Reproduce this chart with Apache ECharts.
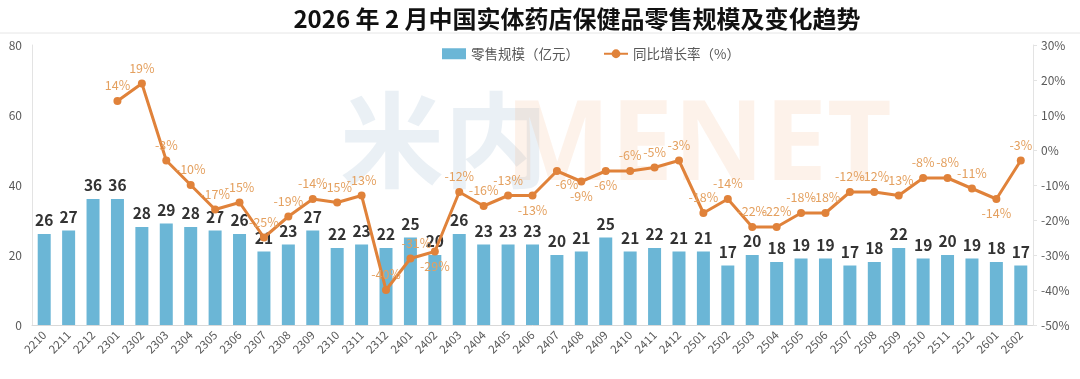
<!DOCTYPE html>
<html><head><meta charset="utf-8">
<script src="https://cdn.jsdelivr.net/npm/echarts@6/dist/echarts.min.js"></script>
<style>html,body{margin:0;padding:0;background:#fff}#c{width:1080px;height:379px}</style>
</head><body><div id="c"></div>
<script>
const categories = ['2210','2211','2212','2301','2302','2303','2304','2305','2306','2307','2308','2309','2310','2311','2312','2401','2402','2403','2404','2405','2406','2407','2408','2409','2410','2411','2412','2501','2502','2503','2504','2505','2506','2507','2508','2509','2510','2511','2512','2601','2602'];
const salesValues = [26,27,36,36,28,29,28,27,26,21,23,27,22,23,22,25,20,26,23,23,23,20,21,25,21,22,21,21,17,20,18,19,19,17,18,22,19,20,19,18,17];
const growthValues = [null,null,null,14,19,-3,-10,-17,-15,-25,-19,-14,-15,-13,-40,-31,-29,-12,-16,-13,-13,-6,-9,-6,-6,-5,-3,-18,-14,-22,-22,-18,-18,-12,-12,-13,-8,-8,-11,-14,-3];
const leftTicks = [0,20,40,60,80];
const rightTicks = [-50,-40,-30,-20,-10,0,10,20,30];

const bottomLabelIdx = [16,20,21,22,23,39];
const font = '"Noto Sans CJK SC", "Noto Sans", sans-serif';

const lineData = growthValues.map((v,i)=>{
  if (v === null) return null;
  const o = {value: v};
  if (bottomLabelIdx.includes(i)) o.label = {position: 'bottom', distance: 4};
  if (i === 21) o.label = {position: 'bottom', offset:[10,-2]};
  if (i === 15) o.label = {position: 'top', offset:[6,0]};
  return o;
});

const chart = echarts.init(document.getElementById('c'));
chart.setOption({
  backgroundColor: '#fff',
  animation: false,
  title: {
    text: '2026 年 2 月中国实体药店保健品零售规模及变化趋势',
    left: 572, top: 2, textAlign: 'center',
    textStyle: {fontFamily: font, fontSize: 24, fontWeight: 'bold', color: '#111'}
  },
  legend: {
    left: 437, top: 42, itemGap: 24,
    itemWidth: 24, itemHeight: 11,
    textStyle: {fontFamily: font, fontSize: 13.5, color: '#595959'},
    data: [
      {name: '零售规模（亿元）', icon: 'rect'},
      {name: '同比增长率（%）'}
    ]
  },
  graphic: [
    {type:'line', shape:{x1:0,y1:33,x2:1080,y2:33}, style:{stroke:'#e6e6e6', lineWidth:1}, silent:true},
    {type:'text', left: 340, top: 88, z: -10, silent:true,
     style:{text:'米内', font:'bold 104px "Noto Sans CJK SC"', fill:'rgba(170,195,215,0.25)'}},
    {type:'text', left: 505, top: 92, z: -10, silent:true,
     style:{text:'MENET', font:'bold 112px "Noto Sans"', fill:'rgba(245,185,140,0.18)'}}
  ],
  grid: {left: 32, right: 47, top: 45, bottom: 54},
  xAxis: {
    type: 'category', data: categories,
    axisLine: {lineStyle: {color: '#d9d9d9'}},
    axisTick: {show: false},
    axisLabel: {rotate: 45, interval: 0, color: '#595959', fontSize: 11.5, fontFamily: font, margin: 8}
  },
  yAxis: [
    {
      type: 'value', min: leftTicks[0], max: leftTicks[leftTicks.length-1], interval: 20,
      axisLine: {show: true, lineStyle: {color: '#e3e3e3'}},
      axisTick: {show: false},
      splitLine: {show: false},
      axisLabel: {color: '#595959', fontSize: 12, fontFamily: font, margin: 10}
    },
    {
      type: 'value', min: rightTicks[0], max: rightTicks[rightTicks.length-1], interval: 10,
      axisLine: {show: true, lineStyle: {color: '#e3e3e3'}},
      axisTick: {show: true, length: 4, lineStyle: {color: '#e3e3e3'}},
      splitLine: {show: false},
      axisLabel: {color: '#595959', fontSize: 12, fontFamily: font, margin: 8, formatter: '{value}%'}
    }
  ],
  series: [
    {
      name: '零售规模（亿元）', type: 'bar', data: salesValues, barWidth: 13,
      itemStyle: {color: '#6BB6D6'},
      label: {show: true, position: 'top', distance: 6, color: '#333', fontSize: 15.5, fontWeight: 'bold', fontFamily: font}
    },
    {
      name: '同比增长率（%）', type: 'line', yAxisIndex: 1, data: lineData,
      symbol: 'circle', symbolSize: 8,
      lineStyle: {color: '#E0823A', width: 3},
      itemStyle: {color: '#E0823A'},
      label: {show: true, position: 'top', distance: 5, color: '#E4A05F', fontSize: 12.5, fontFamily: font,
        formatter: p => p.value + '%'},
      z: 5
    }
  ]
});
</script></body></html>
